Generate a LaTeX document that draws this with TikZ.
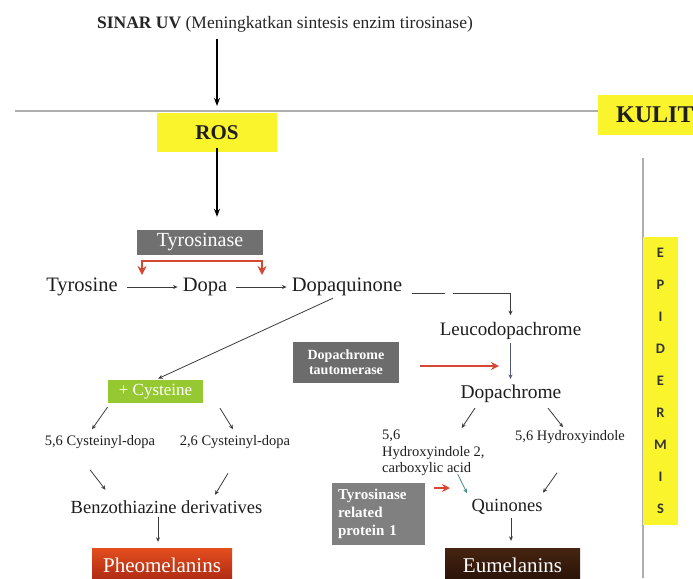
\documentclass[tikz,border=0pt]{standalone}
\usepackage{fontspec}
\setmainfont{Liberation Serif}
\newfontfamily\epifont{Carlito}
\usetikzlibrary{arrows.meta,calc}
\definecolor{ylw}{RGB}{250,244,45}
\definecolor{txtc}{RGB}{30,30,30}
\definecolor{connc}{RGB}{60,60,60}
\definecolor{tealc}{RGB}{70,140,140}
\definecolor{bluegray}{RGB}{80,90,120}
\definecolor{linec}{RGB}{175,175,175}
\definecolor{tyrgray}{RGB}{112,112,112}
\definecolor{dtgray}{RGB}{108,108,108}
\definecolor{trpgray}{RGB}{128,128,128}
\definecolor{cysgreen}{RGB}{150,200,50}
\definecolor{redc}{RGB}{214,72,52}
\definecolor{pheotop}{RGB}{228,78,30}
\definecolor{pheobot}{RGB}{170,40,18}
\definecolor{eumtop}{RGB}{70,36,16}
\definecolor{eumbot}{RGB}{40,18,8}
\begin{document}
\begin{tikzpicture}[x=1pt,y=-1pt,
  lbl/.style={inner sep=1pt, text=txtc},
  ybox/.style={fill=ylw, inner sep=0pt, text=txtc},
  gbox/.style={inner sep=0pt, text=white},
  conn/.style={draw=connc, line width=0.8pt, -{Stealth[length=4.5pt,width=4pt]}},
  bigarrow/.style={draw=black, line width=1.4pt, -{Stealth[length=8pt,width=6pt]}},
  redarrow/.style={draw=redc, line width=1.8pt, -{Stealth[length=8pt,width=8pt]}},
  grayline/.style={draw=linec, line width=1.2pt},
  big/.style={font={\fontsize{20.5}{24}\selectfont}},
  mid/.style={font={\fontsize{18.5}{22}\selectfont}},
  small/.style={font={\fontsize{14.5}{16.5}\selectfont}},
]
\useasboundingbox (0,0) rectangle (693,578);
\fill[white] (0,0) rectangle (693,578);

% top
\node[lbl, text=black!85, font={\fontsize{17.5}{20}\selectfont}] (uv) at (285,24)
  {\textbf{SINAR UV} (Meningkatkan sintesis enzim tirosinase)};
\coordinate (uvend) at (217,106);
\draw[bigarrow, shorten <=6pt] (uv.south -| uvend) -- (uvend);

% skin line and KULIT
\node[ybox, anchor=west, minimum height=40, inner xsep=18pt, font={\bfseries\fontsize{24}{26}\selectfont}] (kulit) at (598,115) {KULIT};
\coordinate (lstart) at (15,111);
\draw[grayline] (lstart) -- (lstart -| kulit.west);

% vertical line and EPIDERMIS
\coordinate (vtop) at (643,158);
\coordinate (vbot) at (643,578);
\draw[grayline] (vtop) -- (vbot);
\node[ybox, minimum width=35, minimum height=288, align=center, text=black!80,
  font={\epifont\bfseries\fontsize{14.5}{32}\selectfont}] (epi) at (660.5,381)
  {E\\P\\I\\D\\E\\R\\M\\I\\S};

% ROS
\node[ybox, minimum width=120, minimum height=39, font={\bfseries\fontsize{21}{24}\selectfont}] (ros) at (217,132.5) {ROS};
\node[gbox, fill=tyrgray, minimum width=126, minimum height=25, font={\fontsize{20}{22}\selectfont}] (tyr) at (200,242.5) {Tyrosinase};
\draw[bigarrow, shorten <=-4pt, shorten >=13pt] (ros.south) -- (ros.south |- tyr.north);

% red bar under tyrosinase
\coordinate (bar) at ($(tyr.south)+(0,5.5)$);
\coordinate (rl) at (142,275);
\coordinate (rr) at (262,275);
\draw[redc, line width=2.4pt, {Stealth[length=9pt,width=9pt]}-{Stealth[length=9pt,width=9pt]}]
  (rl) -- (rl |- bar) -- (rr |- bar) -- (rr);

% main row
\node[lbl, big] (tyrosine) at (82,287) {Tyrosine};
\node[lbl, big] (dopa) at (205,287) {Dopa};
\node[lbl, big] (dq) at (347,287) {Dopaquinone};
\draw[conn, shorten <=8pt, shorten >=4pt] (tyrosine) -- (dopa);
\draw[conn, shorten <=8pt, shorten >=4pt] (dopa) -- (dq);

% eumelanin branch
\node[lbl, font={\fontsize{19}{22}\selectfont}] (leuco) at (510.5,331) {Leucodopachrome};
\node[lbl, font={\fontsize{19.5}{22}\selectfont}] (dch) at (511,394) {Dopachrome};
\draw[conn, dash pattern=on 33pt off 8pt on 400pt off 0pt, shorten >=6pt]
  ($(dq.east)+(9,6)$) -| (leuco.north);
\draw[conn, draw=bluegray, shorten <=2pt, shorten >=5pt] (leuco.south) -- (leuco.south |- dch.north);

\node[gbox, fill=dtgray, minimum width=106, minimum height=41, align=center,
  font={\bfseries\fontsize{14}{15}\selectfont}] (dt) at (346,362.5) {Dopachrome\\tautomerase};
\coordinate (dtarr) at (499,366);
\draw[redarrow, line width=1.5pt] ($(dt.east)+(21,3.5)$) -- (dtarr);

\node[lbl, small, align=left, anchor=north west] (hi2) at (381,429) {5,6\\Hydroxyindole 2,\\carboxylic acid};
\node[lbl, small] (hi) at (570,437) {5,6 Hydroxyindole};
\draw[conn] ($(dch.south)+(-36,4)$) -- ($(hi2.north east)+(-24,-1)$);
\draw[conn] ($(dch.south)+(37,4)$) -- ($(hi.north)+(-7,-2)$);

\node[lbl, mid] (quin) at (507,507) {Quinones};
\draw[conn, draw=tealc] ($(hi2.south east)+(-28,-3)$) -- ($(quin.north)+(-40,-5)$);
\draw[conn] ($(hi.south)+(-13,28)$) -- ($(quin.north)+(36,-5.5)$);

\node[gbox, fill=trpgray, minimum height=62, text width=81pt, inner xsep=6pt, align=left,
  font={\bfseries\fontsize{15}{18}\selectfont}] (trp) at (378.5,514) {Tyrosinase\\related\\protein 1};
\coordinate (trparr) at (450,488);
\draw[redarrow, line width=1.5pt] ($(trp.east)+(9,-26)$) -- (trparr);

\node[gbox, top color=eumtop, bottom color=eumbot, minimum width=135, minimum height=34,
  font={\fontsize{21}{24}\selectfont}] (eum) at (512.5,565) {Eumelanins};
\draw[conn] ($(quin.south)+(4,2)$) -- ($(eum.north)+(-1.5,-7)$);

% pheomelanin branch
\node[gbox, fill=cysgreen, minimum width=95, minimum height=23, font={\fontsize{17}{20}\selectfont}] (cys) at (155.5,391.5) {+ Cysteine};
\draw[conn, shorten >=3pt] ($(dq.south)+(-14,1)$) -- (cys.north);

\node[lbl, small] (c56) at (100,442) {5,6 Cysteinyl-dopa};
\node[lbl, small] (c26) at (235,442) {2,6 Cysteinyl-dopa};
\draw[conn] ($(cys.south)+(-48,4)$) -- ($(c56.north)+(-8,-5)$);
\draw[conn] ($(cys.south)+(64.5,5)$) -- ($(c26.north)+(-2,-5)$);

\node[lbl, mid] (benzo) at (166.5,507) {Benzothiazine derivatives};
\draw[conn] ($(c56.south)+(-10,20)$) -- ($(benzo.north)+(-61,-9.5)$);
\draw[conn] ($(c26.south)+(-7,23.5)$) -- ($(benzo.north)+(48.5,-4.5)$);

\node[gbox, top color=pheotop, bottom color=pheobot, minimum width=140, minimum height=34,
  font={\fontsize{21}{24}\selectfont}] (pheo) at (162,565) {Pheomelanins};
\draw[conn] ($(benzo.south)+(-8.5,2)$) -- ($(pheo.north)+(-4,-6)$);
\end{tikzpicture}
\end{document}
